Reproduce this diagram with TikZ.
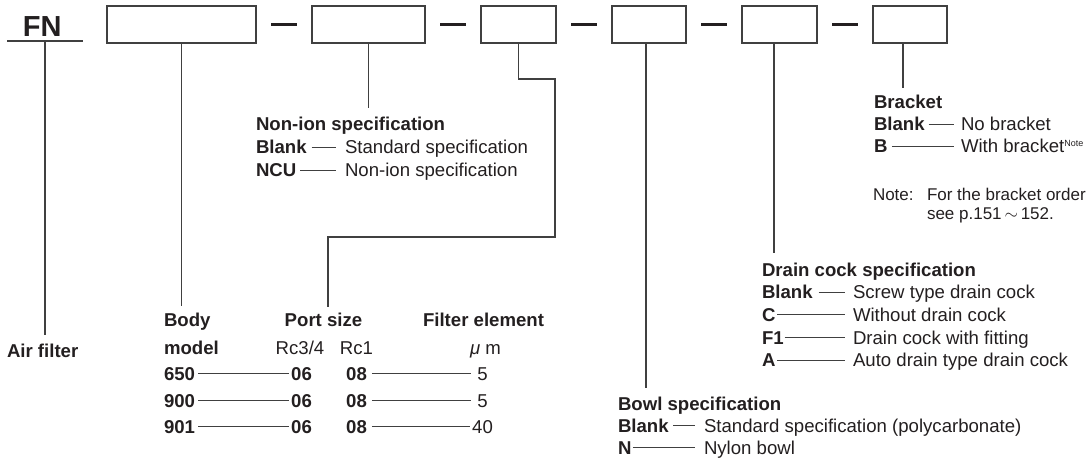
\documentclass[tikz,border=0pt]{standalone}
\usepackage{fontspec}
\setmainfont{Liberation Sans}
\usetikzlibrary{calc}
\definecolor{txt}{RGB}{35,31,32}
\definecolor{ln}{RGB}{64,64,64}
\begin{document}
\begin{tikzpicture}[x=1pt,y=-1pt,
  every node/.style={inner sep=0pt,outer sep=0pt,text=txt,font=\fontsize{18.6}{22}\selectfont},
  lbl/.style={anchor=base west},
  key/.style={anchor=base west,font=\fontsize{18.6}{22}\selectfont\bfseries},
  notetext/.style={anchor=base west,font=\fontsize{17}{20}\selectfont},
  ctr/.style={anchor=base},
  ctrb/.style={anchor=base,font=\fontsize{18.6}{22}\selectfont\bfseries},
  cbox/.style={draw=ln,line width=1.1pt,minimum height=37pt,anchor=north west},
  sepbar/.style={draw=txt,line width=2.4pt},
  conn/.style={draw=ln,line width=1.1pt},
  lead/.style={draw=ln,line width=1pt}]
\useasboundingbox (0,0) rectangle (1088,459);

% ---- code boxes
\node[cbox,minimum width=149pt] (b1) at (107,6) {};
\node[cbox,minimum width=113pt] (b2) at (312,6) {};
\node[cbox,minimum width=75pt]  (b3) at (481,6) {};
\node[cbox,minimum width=74pt]  (b4) at (612,6) {};
\node[cbox,minimum width=75pt]  (b5) at (742,6) {};
\node[cbox,minimum width=74pt]  (b6) at (873,6) {};
\foreach \a/\b in {b1/b2,b2/b3,b3/b4,b4/b5,b5/b6}
  \draw[sepbar] ($(\a.east)+(15,0)$) -- ($(\b.west)+(-15,0)$);

% ---- FN
\node[anchor=base west,font=\fontsize{29}{34}\selectfont\bfseries] (fn) at (23,36.5) {FN};
\coordinate (ulL) at (7,41);
\coordinate (ulR) at (83,41);
\draw[conn] (ulL) -- (ulR);
\node[key] (air) at (7,357) {Air filter};
\coordinate (fnTop) at (45,41);
\coordinate (fnEnd) at (45,335);
\draw[conn] (fnTop) -- (fnEnd);

% ---- connectors from boxes
\coordinate (e1) at (182,306);
\draw[conn] (b1.south) -- (b1.south |- e1);
\coordinate (e2) at (368,108);
\draw[conn] (b2.south) -- (b2.south |- e2);
\coordinate (p1) at (518,79);
\coordinate (p2) at (555,79);
\coordinate (p3) at (555,237);
\coordinate (p4) at (328,237);
\coordinate (e3) at (328,307);
\draw[conn] (b3.south) -- (b3.south |- p1) -- (p2) -- (p3) -- (p4) -- (e3);
\coordinate (e4) at (646,388);
\draw[conn] (e4 |- b4.south) -- (e4);
\coordinate (e5) at (774,253);
\draw[conn] (e5 |- b5.south) -- (e5);
\coordinate (e6) at (903,88);
\draw[conn] (e6 |- b6.south) -- (e6);

% ---- Non-ion specification
\node[key] (nih) at (256,130.7) {Non-ion specification};
\node[key] (nik1) at (256,153.5) {Blank};
\node[lbl] (niv1) at (345,153.5) {Standard specification};
\node[key] (nik2) at (256,176.5) {NCU};
\node[lbl] (niv2) at (345,176.5) {Non-ion specification};
\draw[lead] ($(nik1.base east)+(5,-6.5)$) -- ($(niv1.base west)+(-9,-6.5)$);
\draw[lead] ($(nik2.base east)+(4,-6.5)$) -- ($(niv2.base west)+(-9,-6.5)$);

% ---- Bracket
\node[key] (brh) at (874,108.3) {Bracket};
\node[key] (brk1) at (874,130) {Blank};
\node[lbl] (brv1) at (961,130) {No bracket};
\node[key] (brk2) at (874,152.5) {B};
\node[lbl] (brv2) at (961,152.5) {With bracket\raisebox{6.5pt}{\fontsize{9}{10}\selectfont Note}};
\draw[lead] ($(brk1.base east)+(4,-6)$) -- ($(brv1.base west)+(-7,-6)$);
\draw[lead] ($(brk2.base east)+(4.5,-6)$) -- ($(brv2.base west)+(-7,-6)$);
\node[notetext] (nt) at (873,200) {Note:};
\node[notetext] (nt1) at (927,200) {For the bracket order};
\node[notetext] (nt2) at (927,219) {see p.151\,$\sim$\,152.};

% ---- Drain cock specification
\node[key] (dch) at (762,276) {Drain cock specification};
\node[key] (dck1) at (762,298.7) {Blank};
\node[lbl] (dcv1) at (853,298.7) {Screw type drain cock};
\node[key] (dck2) at (762,321.4) {C};
\node[lbl] (dcv2) at (853,321.4) {Without drain cock};
\node[key] (dck3) at (762,344.1) {F1};
\node[lbl] (dcv3) at (853,344.1) {Drain cock with fitting};
\node[key] (dck4) at (762,366.8) {A};
\node[lbl] (dcv4) at (853,366.8) {Auto drain type drain cock};
\draw[lead] ($(dck1.base east)+(6,-6.5)$) -- ($(dcv1.base west)+(-8,-6.5)$);
\draw[lead] ($(dck2.base east)+(2,-6.5)$) -- ($(dcv2.base west)+(-8,-6.5)$);
\draw[lead] ($(dck3.base east)+(1,-6.5)$) -- ($(dcv3.base west)+(-8,-6.5)$);
\draw[lead] ($(dck4.base east)+(2,-6.5)$) -- ($(dcv4.base west)+(-8,-6.5)$);

% ---- Bowl specification
\node[key] (bwh) at (618,410.5) {Bowl specification};
\node[key] (bwk1) at (618,432.5) {Blank};
\node[lbl] (bwv1) at (704,432.5) {Standard specification (polycarbonate)};
\node[key] (bwk2) at (618,454.5) {N};
\node[lbl] (bwv2) at (704,454.5) {Nylon bowl};
\draw[lead] ($(bwk1.base east)+(4.5,-7)$) -- ($(bwv1.base west)+(-9,-7)$);
\draw[lead] ($(bwk2.base east)+(1.5,-7)$) -- ($(bwv2.base west)+(-9,-7)$);

% ---- Body model / Port size / Filter element table
\node[key] (body) at (164,326.7) {Body};
\node[key] (model) at (164,354.2) {model};
\node[ctrb] (port) at (323.5,326.7) {Port size};
\node[ctr] (rc34) at (300,354.2) {Rc3/4};
\node[ctr] (rc1) at (356.5,354.2) {Rc1};
\node[ctrb] (filt) at (483.5,326.7) {Filter element};
\node[ctr] (um) at (485.5,354.2) {{\itshape μ} m};
\foreach \i/\m/\f/\y in {1/650/5/380.7, 2/900/5/407.3, 3/901/40/433.8}{
  \node[key] (m\i) at (164,\y) {\m};
  \node[ctrb] (pa\i) at (301.5,\y) {06};
  \node[ctrb] (pb\i) at (356.5,\y) {08};
  \node[ctr] (f\i) at (482.5,\y) {\f};
  \draw[lead] ($(m\i.base east)+(3,-7)$) -- ($(pa\i.base west)+(-2,-7)$);
}
\draw[lead] ($(pb1.base east)+(5,-7)$) -- ($(f1.base west)+(-6,-7)$);
\draw[lead] ($(pb2.base east)+(5,-7)$) -- ($(f2.base west)+(-6,-7)$);
\draw[lead] ($(pb3.base east)+(5,-7)$) -- ($(f3.base west)+(-2,-7)$);
\end{tikzpicture}
\end{document}
